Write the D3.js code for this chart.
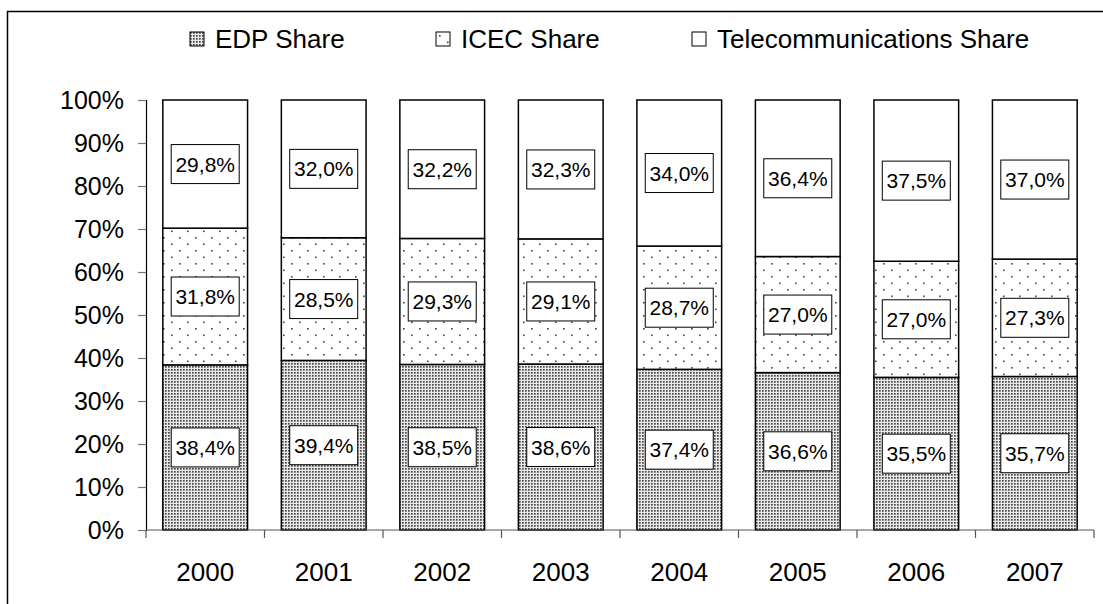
<!DOCTYPE html>
<html>
<head>
<meta charset="utf-8">
<script src="https://cdn.jsdelivr.net/npm/d3@7"></script>
<style>
  body { margin: 0; background: #fff; }
  svg { font-family: Arial, "Liberation Sans", sans-serif; display: block; }
</style>
</head>
<body>
<div id="chart"></div>
<script>
// data
const years = ["2000", "2001", "2002", "2003", "2004", "2005", "2006", "2007"];
const edpShare = [38.4, 39.4, 38.5, 38.6, 37.4, 36.6, 35.5, 35.7];
const icecShare = [31.8, 28.5, 29.3, 29.1, 28.7, 27.0, 27.0, 27.3];
const telecomShare = [29.8, 32.0, 32.2, 32.3, 34.0, 36.4, 37.5, 37.0];
const seriesNames = ["EDP Share", "ICEC Share", "Telecommunications Share"];
const yTicks = [0, 0.1, 0.2, 0.3, 0.4, 0.5, 0.6, 0.7, 0.8, 0.9, 1];

const width = 1103, height = 604;
const margin = { top: 100, right: 9, bottom: 74, left: 146 };

const rows = years.map((y, i) => ({
    year: y,
    edp: edpShare[i],
    icec: icecShare[i],
    tel: telecomShare[i]
}));
const keys = ["edp", "icec", "tel"];
const fills = { edp: "url(#dense)", icec: "url(#sparse)", tel: "#fff" };

const stack = d3.stack().keys(keys).offset(d3.stackOffsetExpand);
const series = stack(rows);

const x = d3.scaleBand()
    .domain(years)
    .range([margin.left, width - margin.right])
    .paddingInner(0.285)
    .paddingOuter(0.142);

const y = d3.scaleLinear()
    .domain([0, 1])
    .range([height - margin.bottom, margin.top]);

const svg = d3.select("#chart").append("svg")
    .attr("width", width)
    .attr("height", height);

// fill patterns
const defs = svg.append("defs");
const dense = defs.append("pattern")
    .attr("id", "dense")
    .attr("patternUnits", "userSpaceOnUse")
    .attr("width", 3).attr("height", 3);
dense.append("rect").attr("width", 3).attr("height", 3).attr("fill", "#e8e8e8");
dense.append("rect").attr("width", 1.7).attr("height", 1.7).attr("fill", "#4a4a4a");

const sparse = defs.append("pattern")
    .attr("id", "sparse")
    .attr("patternUnits", "userSpaceOnUse")
    .attr("width", 16).attr("height", 13);
sparse.append("rect").attr("width", 16).attr("height", 13).attr("fill", "#fff");
sparse.append("rect").attr("x", 3).attr("y", 3).attr("width", 1.6).attr("height", 1.6).attr("fill", "#444");
sparse.append("rect").attr("x", 11).attr("y", 9.5).attr("width", 1.6).attr("height", 1.6).attr("fill", "#444");

// outer frame (left and top only, as cropped)
svg.append("path")
    .attr("d", `M7.5,${height}V11.5H${width}`)
    .attr("fill", "none")
    .attr("stroke", "#000")
    .attr("stroke-width", 1.5);

// y axis
svg.append("g")
    .attr("transform", `translate(${margin.left},0)`)
    .call(d3.axisLeft(y).tickValues(yTicks).tickFormat(d3.format(".0%")).tickSize(8).tickPadding(14))
    .call(g => g.select(".domain").attr("stroke", "#000").attr("stroke-width", 1.2))
    .call(g => g.selectAll(".tick line").attr("stroke", "#777").attr("stroke-width", 1.2))
    .call(g => g.selectAll(".tick text")
        .attr("font-size", 25)
        .attr("fill", "#000")
        .attr("font-family", "Arial, 'Liberation Sans', sans-serif"));

// bars
const layer = svg.append("g")
    .selectAll("g")
    .data(series)
    .join("g")
    .attr("fill", d => fills[d.key]);

layer.selectAll("rect")
    .data(d => d)
    .join("rect")
    .attr("x", d => x(d.data.year))
    .attr("y", d => y(d[1]))
    .attr("width", x.bandwidth())
    .attr("height", d => y(d[0]) - y(d[1]))
    .attr("stroke", "#000")
    .attr("stroke-width", 1.5);

// x axis with ticks between categories
const edgeScale = d3.scaleLinear().domain([0, years.length]).range([margin.left, width - margin.right]);
const xg = svg.append("g").attr("transform", `translate(0,${y(0)})`);
xg.append("line")
    .attr("x1", margin.left).attr("x2", width - margin.right)
    .attr("stroke", "#555").attr("stroke-width", 1.2);
xg.selectAll("line.tk")
    .data(d3.range(years.length + 1))
    .join("line")
    .attr("class", "tk")
    .attr("x1", d => edgeScale(d)).attr("x2", d => edgeScale(d))
    .attr("y1", 0).attr("y2", 8)
    .attr("stroke", "#555").attr("stroke-width", 1.2);
xg.selectAll("text")
    .data(years)
    .join("text")
    .attr("x", d => x(d) + x.bandwidth() / 2)
    .attr("y", 51)
    .attr("text-anchor", "middle")
    .attr("font-size", 26)
    .text(d => d);

// value labels in boxes
const fmt = v => v.toFixed(1).replace(".", ",") + "%";
const labels = svg.append("g");
series.forEach(s => {
    s.forEach(d => {
        const cx = x(d.data.year) + x.bandwidth() / 2;
        const cy = (y(d[0]) + y(d[1])) / 2;
        const g = labels.append("g").attr("transform", `translate(${cx},${cy})`);
        g.append("rect")
            .attr("x", -34).attr("y", -19.5)
            .attr("width", 68).attr("height", 39)
            .attr("fill", "#fff")
            .attr("stroke", "#000")
            .attr("stroke-width", 1);
        g.append("text")
            .attr("text-anchor", "middle")
            .attr("dy", "0.36em")
            .attr("font-size", 21)
            .text(fmt(d.data[s.key]));
    });
});

// legend
const legendX = [190, 436, 692];
const legend = svg.append("g")
    .selectAll("g")
    .data(keys)
    .join("g")
    .attr("transform", (d, i) => `translate(${legendX[i]},32)`);
legend.append("rect")
    .attr("width", 14).attr("height", 14)
    .attr("fill", d => fills[d])
    .attr("stroke", "#000")
    .attr("stroke-width", 1);
legend.append("text")
    .attr("x", 25)
    .attr("y", 7)
    .attr("dy", "0.36em")
    .attr("font-size", 26)
    .text((d, i) => seriesNames[i]);
</script>
</body>
</html>
